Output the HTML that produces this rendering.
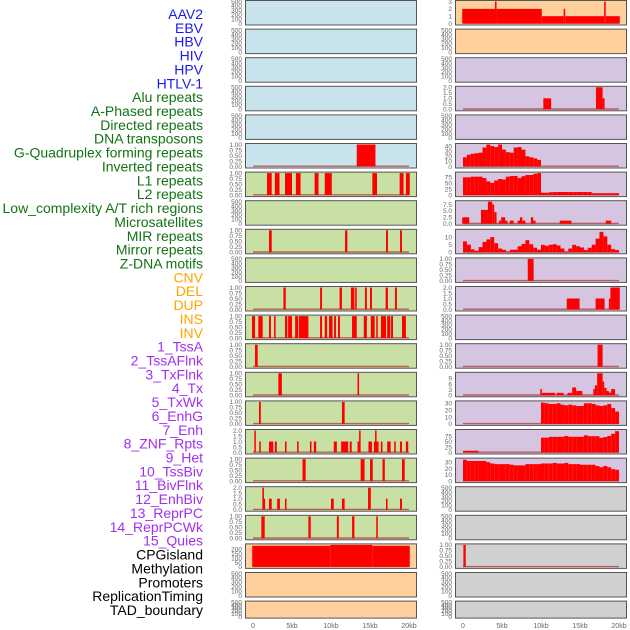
<!DOCTYPE html>
<html><head><meta charset="utf-8"><style>
html,body{margin:0;padding:0;background:#fff;}
svg{display:block;font-family:"Liberation Sans",sans-serif;}
</style></head><body>
<svg id="chart" width="630" height="630" viewBox="0 0 630 630"></svg>
<script>
// ---------- data ----------
const labels = ["AAV2","EBV","HBV","HIV","HPV","HTLV-1","Alu repeats","A-Phased repeats","Directed repeats","DNA transposons","G-Quadruplex forming repeats","Inverted repeats","L1 repeats","L2 repeats","Low_complexity A/T rich regions","Microsatellites","MIR repeats","Mirror repeats","Z-DNA motifs","CNV","DEL","DUP","INS","INV","1_TssA","2_TssAFlnk","3_TxFlnk","4_Tx","5_TxWk","6_EnhG","7_Enh","8_ZNF_Rpts","9_Het","10_TssBiv","11_BivFlnk","12_EnhBiv","13_ReprPC","14_ReprPCWk","15_Quies","CPGisland","Methylation","Promoters","ReplicationTiming","TAD_boundary"];
const labelGroups = ["v","v","v","v","v","v","r","r","r","r","r","r","r","r","r","r","r","r","r","s","s","s","s","s","c","c","c","c","c","c","c","c","c","c","c","c","c","c","c","o","o","o","o","o"];
const leftPanelColors = ["b","b","b","b","b","b","g","g","g","g","g","g","g","g","g","g","g","g","g","o","o","o"];
const rightPanelColors = ["o","o","p","p","p","p","p","p","p","p","p","p","p","p","p","p","p","gr","gr","gr","gr","gr"];
const xTickValues = [0,5,10,15,20];
const xTickLabels = ["0","5kb","10kb","15kb","20kb"];
const emptyTicks = [0,100,200,300,400,500];

// left intervals [start kb, end kb, value]
const L5 = [[13.3,15.7,1]];
const L6 = [[1.8,2.4,1],[2.8,3.4,1],[4.1,5.0,1],[5.5,6.1,1],[7.9,8.4,1],[9.2,10.1,1],[15.3,15.9,1],[18.8,19.3,1],[19.6,20.1,1]];
const L8 = [[2.05,2.4,1],[11.8,12.1,1],[17.05,17.3,1],[18.85,19.1,1]];
const L10 = [[3.9,4.2,1],[8.6,8.85,1],[11.1,11.4,1],[12.55,13,1],[13.1,13.3,1],[14.35,14.6,1],[15,15.25,1],[17,17.3,1],[18.2,18.45,1]];
const L11 = [[-0.13,0.26,1],[0.68,1.24,1],[2.05,2.3,1],[2.7,2.9,1],[4.1,4.4,1],[4.5,5.0,1],[5.4,5.8,1],[5.9,7.1,1],[8.6,8.85,1],[9.2,9.5,1],[9.75,10.2,1],[10.4,10.65,1],[10.9,11.15,1],[12.7,13.3,1],[14.2,14.6,1],[15.1,15.6,1],[15.8,16.0,1],[16.4,17.05,1],[17.2,17.6,1],[17.7,17.95,1],[19.1,19.6,1]];
const L12 = [[0.26,0.6,1]];
const L13 = [[3.25,3.7,1],[13.4,13.6,1]];
const L14 = [[0.77,1.0,1],[11.4,11.75,1]];
const L15 = [[0.17,0.35,2],[0.8,1.0,1],[2.05,2.6,1],[2.8,3.05,1],[4.1,4.3,1],[5.65,5.85,1],[7.3,7.5,1],[7.8,8.1,1],[10.35,10.75,1],[11.3,12.2,1],[12.4,12.65,1],[13.4,13.7,1],[13.6,13.8,2],[14.8,15.25,1],[15.5,16.1,1],[15.65,15.75,2],[16.4,16.6,1],[17.2,17.65,1],[18.1,18.3,1],[18.85,19.1,1],[19.6,19.9,1]];
const L16 = [[6.35,6.75,1],[13.8,14.3,1],[15,15.35,1],[16.6,16.9,1],[19.1,19.45,1]];
const L17 = [[1.2,1.4,2],[1.3,1.55,1],[2.05,2.4,1],[3.1,3.45,1],[4.1,4.3,1],[10,10.35,1],[11.4,11.75,1],[14.75,15.1,2],[17.05,17.25,1],[18.85,19.1,1]];
const L18 = [[1.07,1.5,1],[7.1,7.4,1],[10.75,11,1],[12.7,13,1],[15.8,16.0,1]];
const L19 = [[-0.1,9.9,240],[9.9,15.3,250],[15.3,20.1,240]];

// right intervals
const R0 = [[-0.1,4.1,2],[4.1,4.3,3],[4.3,10.1,2],[10.1,12.9,1],[12.9,13.1,2],[13.1,18.1,1],[18.1,18.3,3],[18.3,20.1,1]];
const R3 = [[10.3,11.3,1],[17.05,17.9,2],[17.9,18.15,1]];
const R7 = [[-0.1,0.8,2.5],[2.3,3.2,5.4],[3.2,3.75,8.6],[3.75,4.0,7.5],[4.0,4.3,4.5],[4.6,4.9,1.2],[4.9,5.4,2.5],[5.4,5.7,1.2],[6.0,6.5,1.2],[7.0,7.3,1.2],[7.3,7.6,2.5],[7.6,8.0,1.2],[8.7,9.0,2.5],[9.0,9.3,1.2],[12.4,13.9,1.2],[18.3,19.0,1.2]];
const R9 = [[8.3,9.05,1]];
const R10 = [[13.3,14.95,1],[17,18.15,1],[18.7,18.9,1],[18.9,20.1,2]];
const R12 = [[17.25,17.9,1]];
const R13 = [[9.9,10.1,3.3],[10.1,11.8,1.3],[12,12.9,1.3],[13.4,14,1.3],[14,14.5,4.2],[14.5,15.3,2.3],[16.7,16.9,3.3],[16.9,17.2,5.3],[17.2,17.9,11.7],[17.9,18.1,7.3],[18.1,18.4,4],[18.4,18.7,2.3],[18.7,19,1.5],[19,19.5,3.3]];
const R19 = [[0.05,0.35,1]];

// right binned profiles (0.5 kb bins)
const R5start = 0;
const R5 = [18,23,25,26,27,37,43,40,38,43,33,28,27,37,38,33,20,18,16,13];
const R6start = 0;
const R6 = [75,75,78,78,78,72,58,52,62,68,66,78,81,81,72,80,85,85,90,93,10,10,12,13,13,13,13,13,13,13,13,13,13,8,8,8,8,8,8,8];
const R8start = 0;
const R8 = [7.2,5,2,1,3.4,6.8,8.5,10,6,2.5,1.7,0.5,1.7,1.7,4,5.5,8,5.3,3,1.7,4.9,4.3,5,5.3,4.5,2.5,0.5,2.5,4.9,4,3.2,1.5,3,5,9,13.5,10.5,5,2.1,1.5];
const R14start = 10;
const R14 = [31,30,29,29,30,28,27,28,27,26,26,30,30,29,27,26,27,29,23,18];
const R15start = 0;
const R15 = [8,8,8,8,0,0,0,0,0,0,0,0,0,0,0,0,0,0,0,0,68,68,72,72,72,72,76,72,72,72,72,79,75,75,75,67,71,76,86,98];
const R16start = 0;
const R16 = [34,32,32,32,32,32,30,28,27,27,27,27,26,25,25,25,27,27,27,27,28,28,28,29,28,28,29,27,27,27,26,26,26,26,24,22,24,22,19,18];

// ---------- drawing ----------
const NS = "http://www.w3.org/2000/svg";
const svg = document.getElementById("chart");
const fills = {b:"#c9e3ec",g:"#c9e0a5",o:"#ffd09e",p:"#d5c5e1",gr:"#d0d0d0"};
const labelColors = {v:"#1a1af0",r:"#137313",s:"#ffa500",c:"#a030f0",o:"#000000"};
function mk(tag, attrs, parent){
  const e = document.createElementNS(NS, tag);
  for (const k in attrs) e.setAttribute(k, attrs[k]);
  (parent||svg).appendChild(e);
  return e;
}
function binsToIntervals(start, vals){
  const out = [];
  vals.forEach((v,i)=>{ if(v>0) out.push([start+i*0.5, start+i*0.5+0.5, v]); });
  return out;
}
function xScale(col, kb){ return (col===0?253:463) + kb*7.8; }
function rowTop(i){ return i*28.6; }
function rowH(i){ return i===21 ? 17 : 24.5; }

// labels
labels.forEach((t,i)=>{
  const e = mk("text",{x:203,y:14+i*13.86+5,"text-anchor":"end","font-size":"14",fill:labelColors[labelGroups[i]]});
  e.textContent = t;
  
  
});

function fmt(v, dec){ return v.toFixed(dec); }

function panel(col, row, color, data, ymax, ticks, dec){
  const top = rowTop(row), h = rowH(row);
  const x0 = col===0?245:455;
  const g = mk("g",{});
  
  
  const r = mk("rect",{x:x0+0.5,y:top+0.5,width:171,height:h,fill:fills[color],stroke:"#555",'stroke-width':1},g);
  
  
  const yS = v => top + h - 1 - (v/ymax)*(h-2.5);
  ticks.forEach(t=>{
    const tx = mk("text",{x:x0-3,y:yS(t)+2.3,"text-anchor":"end","font-size":"6.5",fill:"#666"},g);
    tx.textContent = fmt(t,dec);
    
    
  });
  if (data){
    const bl = mk("line",{x1:xScale(col,0),x2:xScale(col,20),y1:yS(0)-0.3,y2:yS(0)-0.3,stroke:"#b03a3a","stroke-width":1.4,opacity:0.75},g);
    
    
    data.forEach(d=>{
      const xa = xScale(col,d[0]), xb = xScale(col,d[1]);
      const bar = mk("rect",{x:xa,y:yS(d[2]),width:Math.max(1.5,xb-xa),height:yS(0)-yS(d[2]),fill:"#ff0000"},g);
      
      
    });
  }
}

const t1 = [0,0.25,0.5,0.75,1];
const t2 = [0,0.5,1,1.5,2];
const leftData = {5:L5,6:L6,8:L8,10:L10,11:L11,12:L12,13:L13,14:L14,15:L15,16:L16,17:L17,18:L18,19:L19};
const leftCfg = {5:[1,t1,2],6:[1,t1,2],8:[1,t1,2],10:[1,t1,2],11:[1,t1,2],12:[1,t1,2],13:[1,t1,2],14:[1,t1,2],15:[2,t2,1],16:[1,t1,2],17:[2,t2,1],18:[1,t1,2],19:[250,[0,50,100,150,200],0]};
for (let i=0;i<22;i++){
  if (leftData[i]) panel(0,i,leftPanelColors[i],leftData[i],leftCfg[i][0],leftCfg[i][1],leftCfg[i][2]);
  else panel(0,i,leftPanelColors[i],null,500,emptyTicks,0);
}
const rightData = {0:R0,3:R3,5:binsToIntervals(R5start,R5),6:binsToIntervals(R6start,R6),7:R7,8:binsToIntervals(R8start,R8),9:R9,10:R10,12:R12,13:R13,14:binsToIntervals(R14start,R14),15:binsToIntervals(R15start,R15),16:binsToIntervals(R16start,R16),19:R19};
const rightCfg = {0:[3,[0,1,2,3],0],3:[2,t2,1],5:[43,[0,10,20,30,40],0],6:[93,[0,25,50,75],0],7:[8.6,[0,2.5,5,7.5],1],8:[14.5,[0,5,10],0],9:[1,t1,2],10:[2,t2,1],12:[1,t1,2],13:[11.7,[0,3,6,9],0],14:[32,[0,10,20,30],0],15:[101,[0,25,50,75],0],16:[35,[0,10,20,30],0],19:[1,t1,2]};
for (let i=0;i<22;i++){
  if (rightData[i]) panel(1,i,rightPanelColors[i],rightData[i],rightCfg[i][0],rightCfg[i][1],rightCfg[i][2]);
  else panel(1,i,rightPanelColors[i],null,500,emptyTicks,0);
}
// x axes
[0,1].forEach(col=>{
  xTickValues.forEach((v,i)=>{
    const t = mk("text",{x:xScale(col,v),y:628,"text-anchor":"middle","font-size":"7",fill:"#666"});
    t.textContent = xTickLabels[i];
    
    
  });
});
</script>
</body></html>
